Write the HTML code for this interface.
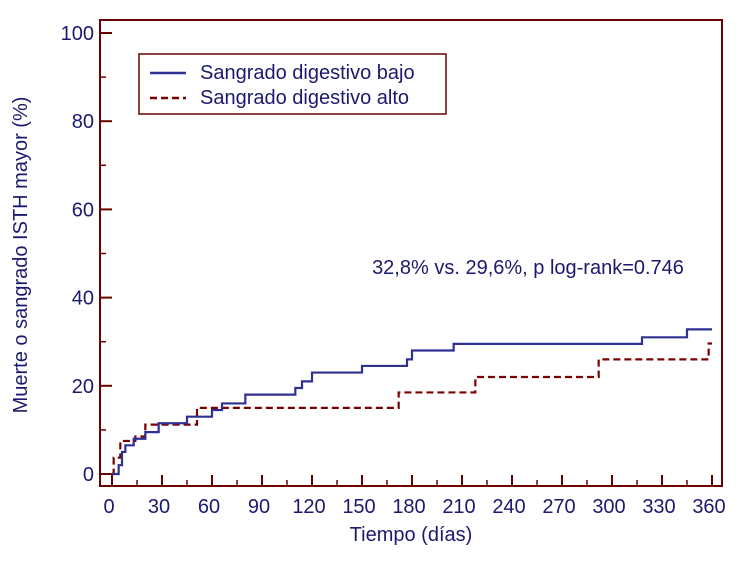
<!DOCTYPE html>
<html><head><meta charset="utf-8"><style>
body{margin:0;background:#fff;}
svg{display:block;font-family:"Liberation Sans",sans-serif;}
</style></head><body>
<svg id="chart" width="750" height="562" viewBox="0 0 750 562">
<rect x="100" y="20" width="622" height="466" fill="none" stroke="#6b0000" stroke-width="2"/>
<g id="yaxis"></g>
<g id="xaxis"></g>
<g id="series"></g>
<text x="27" y="255" transform="rotate(-90 27 255)" text-anchor="middle" font-size="20" fill="#1a1a6e">Muerte o sangrado ISTH mayor (%)</text>
<text x="411" y="541" text-anchor="middle" font-size="20" fill="#1a1a6e">Tiempo (días)</text>
<text x="528" y="274" text-anchor="middle" font-size="20" fill="#1a1a6e">32,8% vs. 29,6%, p log-rank=0.746</text>
<g>
<rect x="139" y="54" width="307" height="60" fill="#fff" stroke="#6b0000" stroke-width="1.5"/>
<line x1="150" y1="73" x2="186" y2="73" stroke="#2e3192" stroke-width="2.5"/>
<text x="200" y="79" font-size="20" fill="#1a1a6e">Sangrado digestivo bajo</text>
<line x1="150" y1="98" x2="186" y2="98" stroke="#7a0000" stroke-width="2.5" stroke-dasharray="7,4"/>
<text x="200" y="104" font-size="20" fill="#1a1a6e">Sangrado digestivo alto</text>
</g>
</svg>
<script>
const yTicks=[0,20,40,60,80,100];
const xTicks=[0,30,60,90,120,150,180,210,240,270,300,330,360];
const bajoT=[0,4,6,8,13,20,28,45,60,66,80,110,114,120,150,177,180,205,318,345,360];
const bajoV=[0,2,5,6.5,8,9.5,11.5,13,14.5,16,18,19.5,21,23,24.5,26,28,29.5,31,32.8,32.8];
const altoT=[0,1,5,14,20,51,172,218,292,358,360];
const altoV=[0,3.7,7.5,8.5,11.2,15,18.5,22,26,29.6,29.6];
const NS='http://www.w3.org/2000/svg';
const xs=t=>112+t*(600/360);
const ys=v=>474-v*4.41;
const ya=document.getElementById('yaxis'),xa=document.getElementById('xaxis'),sg=document.getElementById('series');
function mk(tag,a,p){const e=document.createElementNS(NS,tag);for(const k in a)e.setAttribute(k,a[k]);p.appendChild(e);return e;}
yTicks.forEach((v,i)=>{
 const l=mk('line',{x1:100,x2:112,y1:ys(v),y2:ys(v),stroke:'#6b0000','stroke-width':2},ya);
 
 
 if(i<yTicks.length-1){const m=mk('line',{x1:100,x2:106,y1:ys(v+10),y2:ys(v+10),stroke:'#6b0000','stroke-width':1.5},ya);
 
 }
 const t=mk('text',{x:94,y:ys(v)+7,'text-anchor':'end','font-size':20,fill:'#1a1a6e'},ya);t.textContent=v;
 
 
});
xTicks.forEach((v,i)=>{
 const l=mk('line',{x1:xs(v),x2:xs(v),y1:486,y2:475,stroke:'#6b0000','stroke-width':2},xa);
 
 
 if(i<xTicks.length-1){const m=mk('line',{x1:xs(v+15),x2:xs(v+15),y1:486,y2:480,stroke:'#6b0000','stroke-width':1.5},xa);
 
 }
 const t=mk('text',{x:xs(v)-3,y:513,'text-anchor':'middle','font-size':20,fill:'#1a1a6e'},xa);t.textContent=v;
 
 
});
function step(T,V){let d='M'+xs(T[0])+','+ys(V[0]);for(let i=1;i<T.length;i++){d+=' H'+xs(T[i])+' V'+ys(V[i]);}return d;}
const pa=mk('path',{d:step(altoT,altoV),fill:'none',stroke:'#7a0000','stroke-width':2.2,'stroke-dasharray':'7,4'},sg);


const pb=mk('path',{d:step(bajoT,bajoV),fill:'none',stroke:'#2e3192','stroke-width':2.2},sg);


</script>
</body></html>
